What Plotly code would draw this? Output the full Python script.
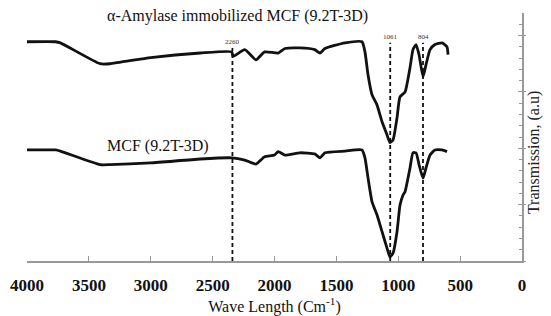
import plotly.graph_objects as go

# Wavenumbers (cm^-1) and transmission (a.u.)
top_wn = [4000, 3770, 3730, 3410, 3330, 3000, 2600, 2345, 2335, 2240, 2150, 2080, 1970, 1915,
          1795, 1675, 1632, 1592, 1430, 1293, 1269, 1244, 1212, 1172, 1131, 1091, 1067, 1042,
          1010, 986, 945, 905, 881, 856, 832, 800, 776, 743, 703, 646, 606, 598]
top_t = [3.89, 3.89, 3.87, 3.50, 3.50, 3.61, 3.69, 3.71, 3.63, 3.75, 3.57, 3.71, 3.69, 3.77,
         3.78, 3.75, 3.69, 3.77, 3.87, 3.89, 3.71, 3.30, 2.95, 2.77, 2.47, 2.24, 2.10, 2.15,
         2.54, 2.91, 3.00, 3.43, 3.75, 3.84, 3.66, 3.27, 3.48, 3.75, 3.84, 3.87, 3.80, 3.66]

bot_wn = [4000, 3770, 3730, 3410, 3330, 3000, 2600, 2345, 2240, 2150, 2080, 2000, 1970, 1915,
          1795, 1675, 1632, 1592, 1430, 1293, 1269, 1244, 1212, 1172, 1131, 1091, 1067, 1042,
          1010, 986, 961, 945, 905, 881, 856, 832, 800, 776, 743, 703, 646, 606]
bot_t = [1.97, 1.97, 1.95, 1.71, 1.71, 1.74, 1.81, 1.83, 1.79, 1.72, 1.85, 1.88, 1.94, 1.88,
         1.92, 1.90, 1.83, 1.92, 1.95, 1.97, 1.83, 1.47, 1.05, 0.82, 0.52, 0.23, 0.07, 0.14,
         0.52, 0.99, 1.17, 1.23, 1.65, 1.92, 1.92, 1.71, 1.47, 1.65, 1.88, 1.97, 1.97, 1.94]

peak_pos = [2340, 1065, 800]
peak_top = [3.78, 3.87, 3.87]
peak_labels = ["2260", "1061", "804"]
peak_label_y = [3.89, 3.98, 3.98]

x_ticks = [4000, 3500, 3000, 2500, 2000, 1500, 1000, 500, 0]
series_names = ["α-Amylase immobilized MCF (9.2T-3D)", "MCF (9.2T-3D)"]
series_label_x = [2300, 2940]
series_label_y = [4.16, 1.85]

SERIF = "Liberation Serif"

fig = go.Figure()

for wn, t in [(top_wn, top_t), (bot_wn, bot_t)]:
    fig.add_trace(go.Scatter(x=wn, y=t, mode="lines",
                             line=dict(color="#111111", width=2.8, shape="spline", smoothing=0.5),
                             showlegend=False, hoverinfo="skip"))

for p, top in zip(peak_pos, peak_top):
    fig.add_trace(go.Scatter(x=[p, p], y=[0, top], mode="lines",
                             line=dict(color="#111111", width=1.8, dash="4px,3px"),
                             showlegend=False, hoverinfo="skip"))

for p, lab, ly in zip(peak_pos, peak_labels, peak_label_y):
    fig.add_annotation(x=p, y=ly, text=lab, showarrow=False,
                       font=dict(family=SERIF, size=7, color="#333333"))

for name, sx, sy in zip(series_names, series_label_x, series_label_y):
    fig.add_annotation(x=sx, y=sy, text=name, showarrow=False, yanchor="bottom",
                       font=dict(family=SERIF, size=16, color="#111111"))

fig.add_annotation(xref="paper", yref="paper", x=1.0, xshift=23, y=0.435,
                   text="Transmission, (a.u)", textangle=-90, showarrow=False,
                   font=dict(family=SERIF, size=16, color="#222222"))

# page body adds an 8px offset, so the figure is drawn 8px up/left of the window edges
fig.update_layout(
    width=543, height=308,
    margin=dict(l=19, r=29, t=5, b=55, autoexpand=False),
    paper_bgcolor="white", plot_bgcolor="white",
    xaxis=dict(range=[4000, 0], tickvals=x_ticks, ticktext=[str(v) for v in x_ticks],
               automargin=False,
               ticks="inside", ticklen=5, tickcolor="#999999", showgrid=False, zeroline=False,
               showline=True, linecolor="#999999", linewidth=1.5,
               tickfont=dict(family=SERIF, size=17, color="#111111", weight="bold"),
               ticklabelstandoff=8,
               title=dict(text="Wave Length (Cm<sup>-1</sup>)", standoff=0,
                          font=dict(family=SERIF, size=16, color="#111111"))),
    yaxis=dict(range=[0, 4.4], side="right", showline=True, linecolor="#999999", linewidth=1.5,
               automargin=False,
               showgrid=False, zeroline=False, showticklabels=False,
               tickvals=[0, 1, 2, 3, 4], ticks="inside", ticklen=4, tickcolor="#999999",
               minor=dict(dtick=0.2, ticks="inside", ticklen=3, tickcolor="#999999")),
    yaxis2=dict(range=[0, 4.4], side="right", overlaying="y", showline=False, showgrid=False,
                automargin=False,
                zeroline=False, showticklabels=False, tickvals=[0, 1, 2, 3, 4],
                ticks="outside", ticklen=3, tickcolor="#999999"),
)
fig.add_trace(go.Scatter(x=[None], y=[None], yaxis="y2", showlegend=False, hoverinfo="skip"))

fig.write_html("out.html")
